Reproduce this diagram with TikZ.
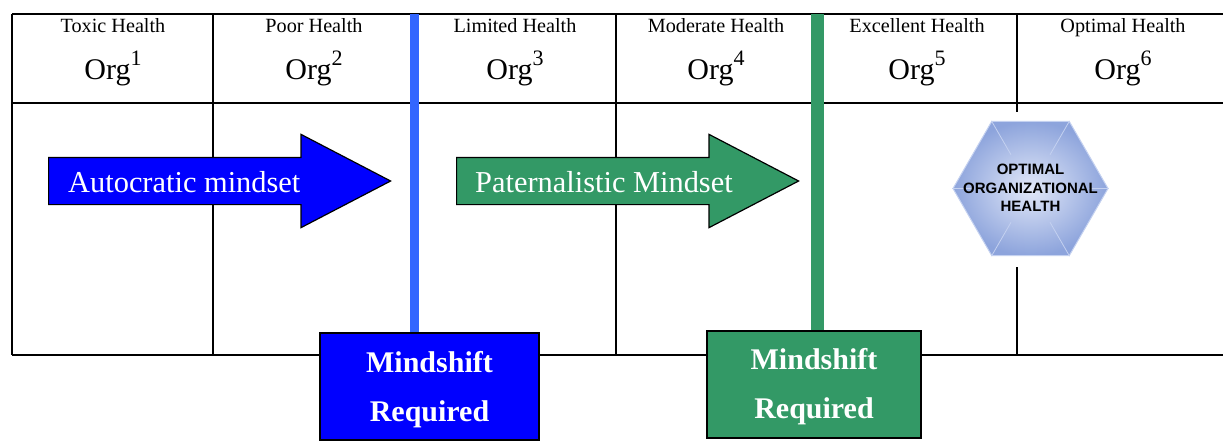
\documentclass[tikz,border=0pt]{standalone}
\usepackage{fontspec}
\setmainfont{Liberation Serif}
\setsansfont{Liberation Sans}
\usetikzlibrary{shapes.arrows,shapes.geometric,calc}
\definecolor{barblue}{HTML}{3366FF}
\definecolor{mindblue}{HTML}{0000FF}
\definecolor{mindgreen}{HTML}{339966}
\definecolor{hexinner}{HTML}{E2E8F8}
\definecolor{hexouter}{HTML}{8DA4DC}
\definecolor{hexrim}{HTML}{C4D1F0}
\newcommand{\orgtext}[1]{Org\raisebox{0.45em}{\fontsize{22}{22}\selectfont #1}}
\tikzset{
  gridline/.style={line width=1.3pt,color=black},
  healthlabel/.style={inner sep=0pt,anchor=base,font=\fontsize{20.2}{22}\selectfont},
  orglabel/.style={inner sep=0pt,anchor=base,font=\fontsize{30}{32}\selectfont},
  mindarrow/.style={single arrow,anchor=tail,minimum height=342pt,single arrow head extend=23pt,single arrow tip angle=55,single arrow head indent=0pt,inner sep=0pt,draw=black,line width=1.2pt},
  arrowlabel/.style={inner sep=0pt,text=white,anchor=west,font=\fontsize{30.4}{32}\selectfont},
  shiftbox/.style={draw=black,line width=1.3pt,inner sep=0pt,minimum height=107pt},
  shiftlabel/.style={inner sep=0pt,anchor=base,text=white,font=\fontsize{30}{32}\selectfont\bfseries},
  hexspoke/.style={color=hexrim,line width=0.8pt},
}
\begin{document}
\begin{tikzpicture}[x=1pt,y=-1pt]
\useasboundingbox (0,0) rectangle (1223,440);
\fill[white] (0,0) rectangle (1223,440);

% table
\draw[gridline] (12,14) -- (1223,14);
\draw[gridline] (12,103) -- (1223,103);
\draw[gridline] (12,355) -- (1223,355);
\draw[gridline] (12,14) -- (12,355);
\draw[gridline] (213,14) -- (213,355);
\draw[gridline] (415,14) -- (415,355);
\draw[gridline] (616,14) -- (616,355);
\draw[gridline] (817,14) -- (817,355);
\draw[gridline] (1017,14) -- (1017,112);
\draw[gridline] (1017,267) -- (1017,355);

\node[healthlabel] (toxic) at (113,32){Toxic Health};
\node[healthlabel] (poor) at (314,32){Poor Health};
\node[healthlabel] (limited) at (515,32){Limited Health};
\node[healthlabel] (moderate) at (716,32){Moderate Health};
\node[healthlabel] (excellent) at (917,32){Excellent Health};
\node[healthlabel] (optimal) at (1123,32){Optimal Health};

\node[orglabel] (orgone) at (113,79){\orgtext{1}};
\node[orglabel] (orgtwo) at (314,79){\orgtext{2}};
\node[orglabel] (orgthree) at (515,79){\orgtext{3}};
\node[orglabel] (orgfour) at (716,79){\orgtext{4}};
\node[orglabel] (orgfive) at (917,79){\orgtext{5}};
\node[orglabel] (orgsix) at (1123,79){\orgtext{6}};

% arrows
\node[mindarrow,fill=mindblue] (autoarrow) at (48,181){\rule{0pt}{46pt}};
\node[mindarrow,fill=mindgreen] (paterarrow) at (456,181){\rule{0pt}{46pt}};
\node[arrowlabel] (autolabel) at (68,182){Autocratic mindset};
\node[arrowlabel] (paterlabel) at (475,182){Paternalistic Mindset};

% mindshift boxes
\node[shiftbox,fill=mindblue,minimum width=219pt] (shiftblue) at (429.5,386.5){};
\node[shiftbox,fill=mindgreen,minimum width=214pt] (shiftgreen) at (814,384.5){};
\coordinate (bluetop) at (414,14);
\coordinate (greentop) at (817,14);
\draw[line width=9pt,color=barblue] (bluetop) -- (bluetop |- shiftblue.north);
\draw[line width=13pt,color=mindgreen] (greentop) -- (greentop |- shiftgreen.north);
\node[shiftlabel] (bluemind) at (429.5,372){Mindshift};
\node[shiftlabel] (bluereq) at (429.5,421){Required};
\node[shiftlabel] (greenmind) at (814,369){Mindshift};
\node[shiftlabel] (greenreq) at (814,418){Required};

% hexagon
\node[regular polygon,regular polygon sides=6,minimum size=155pt,inner sep=0pt,inner color=hexinner,outer color=hexouter,draw=hexrim,line width=1pt] (hexa) at (1030.5,188.5){};
\draw[hexspoke] (hexa.corner 1) -- ($(hexa.center)!0.5!(hexa.corner 1)$);
\draw[hexspoke] (hexa.corner 2) -- ($(hexa.center)!0.5!(hexa.corner 2)$);
\draw[hexspoke] (hexa.corner 3) -- ($(hexa.center)!0.75!(hexa.corner 3)$);
\draw[hexspoke] (hexa.corner 4) -- ($(hexa.center)!0.5!(hexa.corner 4)$);
\draw[hexspoke] (hexa.corner 5) -- ($(hexa.center)!0.5!(hexa.corner 5)$);
\draw[hexspoke] (hexa.corner 6) -- ($(hexa.center)!0.75!(hexa.corner 6)$);
\node[align=center,inner sep=0pt,font=\fontsize{15}{18.3}\selectfont\sffamily\bfseries] (hexalabel) at (1030.5,188){OPTIMAL\\ORGANIZATIONAL\\HEALTH};
\end{tikzpicture}
\end{document}
